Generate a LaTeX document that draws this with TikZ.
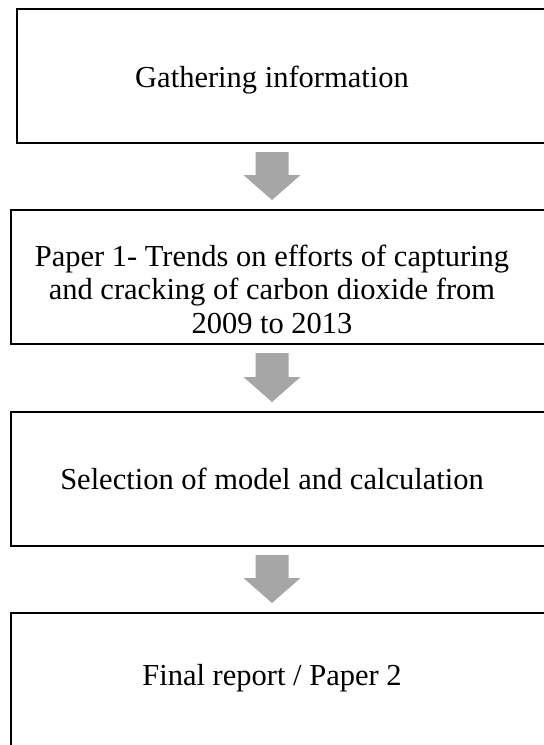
\documentclass[tikz,border=0pt]{standalone}
\usepackage{fontspec}
\setmainfont{Liberation Serif}
\usetikzlibrary{calc}
\tikzset{
  flowbox/.style={draw=black, line width=2pt, rectangle, minimum width=620pt, minimum height=134pt, anchor=north west, inner sep=0pt},
  flowtext/.style={font=\fontsize{30.5}{33.5}\selectfont, align=center, inner sep=0pt, text=black},
  arrowfill/.style={fill=black!35}
}
\begin{document}
\begin{tikzpicture}[x=1pt, y=-1pt]
\useasboundingbox (0,0) rectangle (544,745);
\fill[white] (0,0) rectangle (544,745);
\clip (0,0) rectangle (544,745);
% boxes (open to the right / bottom, cut by the page edge)
\node[flowbox] (b1) at (16,8) {};
\node[flowbox] (b2) at (10,209) {};
\node[flowbox] (b3) at (10,411) {};
\node[flowbox] (b4) at (10,612) {};
% texts
\node[flowtext] (t1) at (272,80) {Gathering information};
\node[flowtext] (t2) at (272,289) {Paper 1- Trends on efforts of capturing\\and cracking of carbon dioxide from\\2009 to 2013};
\node[flowtext] (t3) at (272,479) {Selection of model and calculation};
\node[flowtext] (t4) at (272,678) {Final report / Paper 2};
% block arrows between boxes
\foreach \a/\b in {b1/b2, b2/b3, b3/b4}{
  \coordinate (T) at ($(t1 |- \a.south)+(0,8)$);
  \coordinate (P) at ($(t1 |- \b.north)+(0,-9)$);
  \fill[arrowfill] ($(T)+(-16.5,0)$) -- ($(T)+(16.5,0)$) -- ($(P)+(16.5,-25)$) -- ($(P)+(28.5,-25)$) -- (P) -- ($(P)+(-28.5,-25)$) -- ($(P)+(-16.5,-25)$) -- cycle;
}
\end{tikzpicture}
\end{document}
